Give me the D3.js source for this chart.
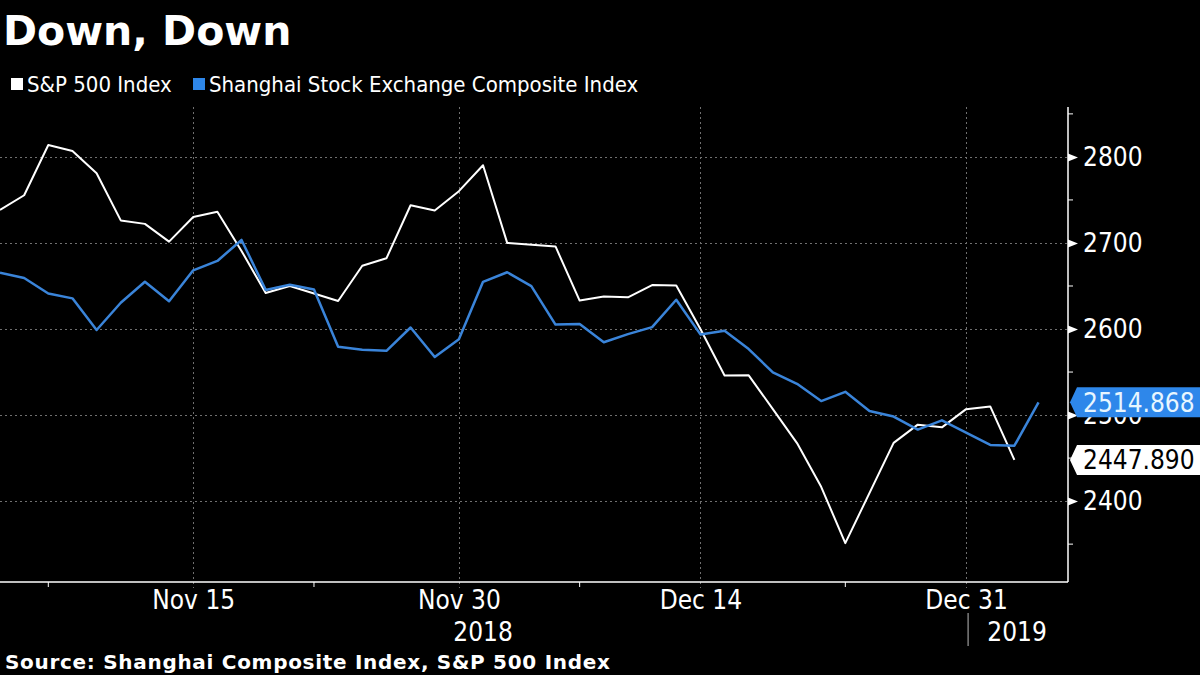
<!DOCTYPE html>
<html>
<head>
<meta charset="utf-8">
<script src="https://cdn.jsdelivr.net/npm/d3@7"></script>
<style>
  body { margin: 0; background: #000; }
  svg { display: block; }
  .cond { font-family: "DejaVu Sans Condensed", "DejaVu Sans", sans-serif; font-stretch: condensed; }
  .bold { font-family: "DejaVu Sans", sans-serif; font-weight: bold; }
</style>
</head>
<body>
<svg id="chart" width="1200" height="675"></svg>
<script>
// trading days shown on the x axis (union of both markets)
var days = ["Nov 5","Nov 6","Nov 7","Nov 8","Nov 9","Nov 12","Nov 13","Nov 14","Nov 15","Nov 16",
  "Nov 19","Nov 20","Nov 21","Nov 22","Nov 23","Nov 26","Nov 27","Nov 28","Nov 29","Nov 30",
  "Dec 3","Dec 4","Dec 5","Dec 6","Dec 7","Dec 10","Dec 11","Dec 12","Dec 13","Dec 14",
  "Dec 17","Dec 18","Dec 19","Dec 20","Dec 21","Dec 24","Dec 25","Dec 26","Dec 27","Dec 28",
  "Dec 31","Jan 2","Jan 3","Jan 4"];

// null = market closed that day
var spx = [2738.31,2755.45,2813.89,2806.83,2781.01,2726.22,2722.18,2701.58,2730.20,2736.27,
  2690.73,2641.89,2649.93,null,2632.56,2673.45,2682.17,2743.79,2737.80,2760.17,
  2790.37,2700.06,null,2695.95,2633.08,2637.72,2636.78,2651.07,2650.54,2599.95,
  2545.94,2546.16,2506.96,2467.42,2416.62,2351.10,null,2467.70,2488.83,2485.74,
  2506.85,2510.03,2447.89,null];

var shcomp = [2665.43,2659.36,2641.34,2635.63,2598.87,2630.52,2654.88,2632.24,2668.17,2679.11,
  2703.51,2645.43,2651.51,2645.85,2579.48,2575.81,2574.68,2601.74,2567.44,2588.19,
  2654.80,2665.96,2649.81,2605.18,2605.89,2584.58,2594.09,2602.15,2634.05,2593.74,
  2597.97,2576.65,2549.56,2536.27,2516.25,2527.01,2504.82,2498.29,2483.09,2493.90,
  null,2465.29,2464.36,2514.868];

var seriesNames = ["S&P 500 Index", "Shanghai Stock Exchange Composite Index"];
var seriesColors = ["#ffffff", "#3a84d9"];
var labelColors = ["#ffffff", "#2e87ea"];

var yTicks = [2400, 2500, 2600, 2700, 2800];
var yMinor = [2350, 2450, 2550, 2650, 2750, 2850];
var xTickIdx = [8, 19, 29, 40];
var xTickLabels = ["Nov 15", "Nov 30", "Dec 14", "Dec 31"];
var xMinorIdx = [2, 13, 24, 35];
var years = ["2018", "2019"];

var svg = d3.select("#chart");
var pL = 0, pR = 1068, pT = 107, pB = 582;

svg.append("rect").attr("width", 1200).attr("height", 675).attr("fill", "#000");

var x = d3.scaleLinear().domain([0, 44.22]).range([pL, pR]);
var y = d3.scaleLinear().domain([2306, 2858]).range([pB, pT]);

// grid
var grid = svg.append("g").attr("stroke", "#707070").attr("stroke-width", 1).attr("stroke-dasharray", "2,3");
grid.selectAll("line.h").data(yTicks).join("line").attr("class", "h")
  .attr("x1", pL).attr("x2", pR)
  .attr("y1", function(d){ return Math.round(y(d)) + 0.5; })
  .attr("y2", function(d){ return Math.round(y(d)) + 0.5; });
grid.selectAll("line.v").data(xTickIdx).join("line").attr("class", "v")
  .attr("y1", pT).attr("y2", pB + 6)
  .attr("x1", function(d){ return Math.round(x(d)) + 0.5; })
  .attr("x2", function(d){ return Math.round(x(d)) + 0.5; });

// x axis
var xAxis = d3.axisBottom(x).tickValues(xTickIdx)
  .tickFormat(function(d, i){ return xTickLabels[i]; })
  .tickSize(0).tickPadding(8);
var gx = svg.append("g").attr("transform", "translate(0," + pB + ")").call(xAxis);
gx.select(".domain").attr("stroke", "#fff").attr("stroke-width", 1.5).attr("d", "M" + pL + ",0H" + pR);
gx.selectAll("text").attr("class", "cond").attr("font-size", 26).attr("fill", "#fff")
  .attr("dy", null).attr("y", 27);
gx.selectAll(".minor").data(xMinorIdx).join("line").attr("class", "minor")
  .attr("stroke", "#fff").attr("x1", function(d){ return x(d); }).attr("x2", function(d){ return x(d); })
  .attr("y1", 0).attr("y2", 5);

// year labels
var xEnd = x(40);
svg.append("text").attr("class", "cond").attr("font-size", 26).attr("fill", "#fff")
  .attr("text-anchor", "middle").attr("x", (pL + xEnd) / 2).attr("y", 641).text(years[0]);
svg.append("text").attr("class", "cond").attr("font-size", 26).attr("fill", "#fff")
  .attr("text-anchor", "middle").attr("x", (xEnd + pR) / 2).attr("y", 641).text(years[1]);
svg.append("line").attr("stroke", "#bbb").attr("x1", xEnd + 2).attr("x2", xEnd + 2)
  .attr("y1", 613).attr("y2", 646);

// y axis on the right
var yAxis = d3.axisRight(y).tickValues(yTicks).tickFormat(d3.format("d")).tickSize(0).tickPadding(15);
var gy = svg.append("g").attr("transform", "translate(" + pR + ",0)").call(yAxis);
gy.select(".domain").attr("stroke", "#fff").attr("stroke-width", 1.5).attr("d", "M0," + pT + "V" + pB);
gy.selectAll("text").attr("class", "cond").attr("font-size", 26).attr("fill", "#fff");
gy.selectAll(".tick").append("path").attr("d", "M0,-4L10,0L0,4Z").attr("fill", "#fff");
gy.selectAll(".minor").data(yMinor).join("line").attr("class", "minor")
  .attr("stroke", "#fff").attr("x1", 0).attr("x2", 5)
  .attr("y1", function(d){ return y(d); }).attr("y2", function(d){ return y(d); });

// lines
var line = d3.line()
  .x(function(d){ return x(d.i); })
  .y(function(d){ return y(d.v); });

[spx, shcomp].forEach(function(s, k){
  var pts = s.map(function(v, i){ return {i: i, v: v}; }).filter(function(d){ return d.v !== null; });
  svg.append("path").datum(pts).attr("d", line)
    .attr("fill", "none").attr("stroke", seriesColors[k])
    .attr("stroke-width", k === 0 ? 2 : 2.5).attr("stroke-linejoin", "round");
});

// last value tags
function lastOf(s){
  for (var i = s.length - 1; i >= 0; i--) if (s[i] !== null) return s[i];
}
[shcomp, spx].forEach(function(s, k){
  var v = lastOf(s);
  var yy = y(v);
  var col = k === 0 ? labelColors[1] : labelColors[0];
  var g = svg.append("g");
  g.append("path")
    .attr("d", "M" + (pR + 2) + "," + yy + "L" + (pR + 9) + "," + (yy - 15) + "H1200V" + (yy + 15) + "H" + (pR + 9) + "Z")
    .attr("fill", col);
  g.append("text").attr("class", "cond").attr("font-size", 26)
    .attr("fill", k === 0 ? "#e8f6ff" : "#000")
    .attr("x", pR + 15).attr("y", yy).attr("dy", "0.36em")
    .text(v.toFixed(3));
});

// title, legend, source
svg.append("text").attr("class", "bold").attr("font-size", 41).attr("fill", "#fff")
  .attr("x", 3).attr("y", 45).text("Down, Down");

var leg = svg.append("g").attr("class", "cond").attr("font-size", 22);
var lx = [11, 193];
seriesNames.forEach(function(n, k){
  leg.append("rect").attr("x", lx[k]).attr("y", 78).attr("width", 12).attr("height", 12).attr("fill", labelColors[k]);
  leg.append("text").attr("x", lx[k] + 16).attr("y", 92).attr("fill", "#fff").text(n);
});

svg.append("text").attr("class", "bold").attr("font-size", 20).attr("letter-spacing", 0.7).attr("fill", "#fff")
  .attr("x", 5).attr("y", 669).text("Source: Shanghai Composite Index, S&P 500 Index");
</script>
</body>
</html>
